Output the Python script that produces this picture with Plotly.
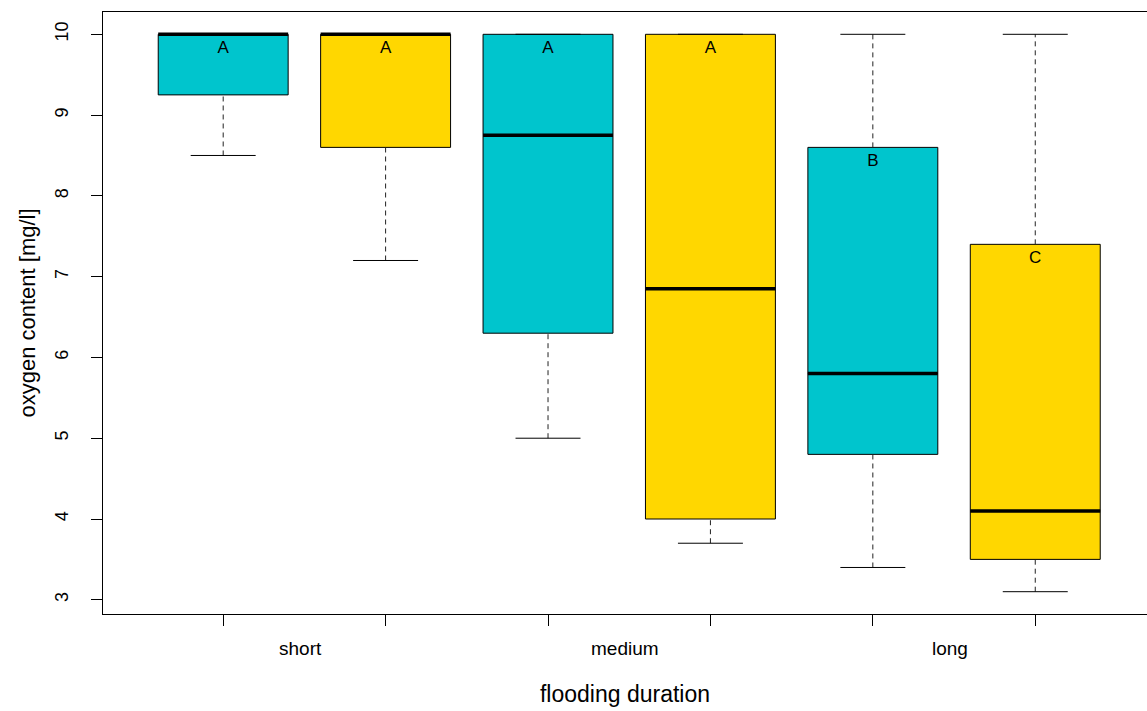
import plotly.graph_objects as go

# Oxygen content by flooding duration, two sites per duration class
positions = [1, 2, 3, 4, 5, 6]
lower_whisker = [8.5, 7.2, 5.0, 3.7, 3.4, 3.1]
q1 = [9.25, 8.6, 6.3, 4.0, 4.8, 3.5]
median = [10.0, 10.0, 8.75, 6.85, 5.8, 4.1]
q3 = [10.0, 10.0, 10.0, 10.0, 8.6, 7.4]
upper_whisker = [10.0, 10.0, 10.0, 10.0, 10.0, 10.0]
letters = ["A", "A", "A", "A", "B", "C"]
box_colors = ["#00C5CD", "#FFD700", "#00C5CD", "#FFD700", "#00C5CD", "#FFD700"]

group_labels = ["short", "medium", "long"]
group_centers = [1.5, 3.5, 5.5]
y_ticks = [3, 4, 5, 6, 7, 8, 9, 10]

BOX_W = 0.8
STAPLE_W = 0.4
FONT = "Liberation Sans, Arial, sans-serif"

fig = go.Figure()

for i, p in enumerate(positions):
    # box body (whiskers drawn separately as dashed lines)
    fig.add_trace(go.Box(
        x=[p], q1=[q1[i]], median=[median[i]], q3=[q3[i]],
        lowerfence=[q1[i]], upperfence=[q3[i]],
        width=BOX_W, fillcolor=box_colors[i],
        line=dict(color="black", width=1),
        boxpoints=False, whiskerwidth=0, showlegend=False, hoverinfo="skip",
    ))
    # dashed whiskers
    fig.add_trace(go.Scatter(
        x=[p, p, None, p, p],
        y=[lower_whisker[i], q1[i], None, q3[i], upper_whisker[i]],
        mode="lines", line=dict(color="#222222", width=1, dash="5px,4px"),
        showlegend=False, hoverinfo="skip",
    ))
    # staples
    fig.add_trace(go.Scatter(
        x=[p - STAPLE_W / 2, p + STAPLE_W / 2, None, p - STAPLE_W / 2, p + STAPLE_W / 2],
        y=[lower_whisker[i], lower_whisker[i], None, upper_whisker[i], upper_whisker[i]],
        mode="lines", line=dict(color="black", width=1),
        showlegend=False, hoverinfo="skip",
    ))
    # heavy median bar
    fig.add_trace(go.Scatter(
        x=[p - BOX_W / 2, p + BOX_W / 2], y=[median[i], median[i]],
        mode="lines", line=dict(color="black", width=3.5),
        showlegend=False, hoverinfo="skip",
    ))

# significance letters just under each box top
fig.add_trace(go.Scatter(
    x=positions, y=[v - 0.18 for v in q3], text=letters,
    mode="text", textfont=dict(family=FONT, size=17, color="black"),
    showlegend=False, hoverinfo="skip",
))

for lab, c in zip(group_labels, group_centers):
    fig.add_annotation(
        x=c, xref="x", y=-0.057, yref="paper", text=lab, showarrow=False,
        xshift=-4, font=dict(family=FONT, size=19, color="black"), yanchor="middle",
    )

fig.update_layout(
    width=1147, height=711,
    margin=dict(l=103, r=0, t=12, b=97),
    paper_bgcolor="white", plot_bgcolor="white",
    font=dict(family=FONT, color="black"),
    xaxis=dict(
        range=[0.26, 6.688], tickvals=positions, ticktext=[""] * 6,
        ticks="outside", ticklen=11, tickwidth=1, tickcolor="black",
        showline=True, linecolor="black", linewidth=1, mirror=True,
        showgrid=False, zeroline=False,
        title=dict(text="flooding duration", font=dict(size=23), standoff=58),
    ),
    yaxis=dict(
        range=[2.824, 10.276], tickvals=y_ticks, tickangle=-90,
        ticks="outside", ticklen=11, tickwidth=1, tickcolor="black",
        tickfont=dict(size=18), ticklabelstandoff=16,
        showline=True, linecolor="black", linewidth=1, mirror=False,
        showgrid=False, zeroline=False,
        title=dict(text="oxygen content [mg/l]", font=dict(size=22), standoff=10),
    ),
)

fig.write_html("out.html")
